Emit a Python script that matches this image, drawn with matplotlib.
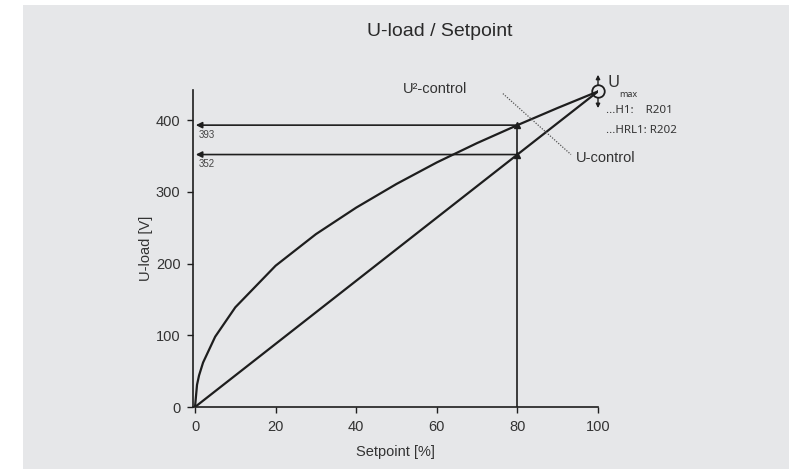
import matplotlib

matplotlib.use("Agg")
import matplotlib.pyplot as plt
from matplotlib.patches import Rectangle
from matplotlib.transforms import offset_copy

# values
setpoint = [0, 0.5, 1, 2, 5, 10, 20, 30, 40, 50, 60, 70, 80, 90, 100]
u_sq = [0, 31, 44, 62, 98, 139, 197, 241, 278, 311, 341, 368, 393, 417, 440]
u_lin_x = [0, 100]
u_lin = [0, 440]
mark_x = 80
mark_vals = [393, 352]
u_max = 440
xticks = [0, 20, 40, 60, 80, 100]
yticks = [0, 100, 200, 300, 400]

INK = "#1e1e1e"
TXT = "#333333"
BG = "#e6e7e9"
SANS = ["Liberation Sans", "DejaVu Sans"]
NOTO = ["Noto Sans", "DejaVu Sans"]

fig = plt.figure(figsize=(7.89, 4.69), dpi=100, facecolor="white")
fig.patches.append(Rectangle((23 / 789, 0), 1, 464 / 469, transform=fig.transFigure,
                             facecolor=BG, edgecolor="none", zorder=-10))
ax = fig.add_axes([193 / 789, 62 / 469, 405 / 789, 317 / 469])
ax.set_facecolor("none")

ax.plot(setpoint, u_sq, color=INK, lw=1.6, solid_capstyle="round")
ax.plot(u_lin_x, u_lin, color=INK, lw=1.6)

# vertical marker line with small up-pointing heads
ax.plot([mark_x, mark_x], [0, mark_vals[0]], color=INK, lw=1.2)
ax.plot([mark_x] * len(mark_vals), mark_vals, "^", color=INK, ms=4.5, mec=INK)

for v in mark_vals:
    ax.annotate("", xy=(0.2, v), xytext=(mark_x, v),
                arrowprops=dict(arrowstyle="-|>", color=INK, lw=1.2,
                                mutation_scale=9, shrinkA=0, shrinkB=0))
    ax.annotate(str(v), xy=(0, v), xytext=(3, -3.5), textcoords="offset points",
                ha="left", va="top", fontsize=7, color="#444444", family=SANS)

# U max marker: open circle with up/down arrows
ax.plot([100], [u_max], "o", ms=9, mfc="none", mec=INK, mew=1.3, clip_on=False)
for dy in (-1, 1):
    tip = offset_copy(ax.transData, fig=fig, x=0, y=dy * 12, units="points")
    ax.annotate("", xy=(100, u_max), xycoords=tip, xytext=(0, -dy * 7.5),
                textcoords="offset points", annotation_clip=False,
                arrowprops=dict(arrowstyle="-|>", color=INK, lw=1.0,
                                mutation_scale=6, shrinkA=0, shrinkB=0))
ax.annotate("U", xy=(100, u_max), xytext=(6.5, 6), textcoords="offset points",
            fontsize=12, color=TXT, ha="left", va="center", family=NOTO,
            annotation_clip=False)
ax.annotate("max", xy=(100, u_max), xytext=(15.5, -2), textcoords="offset points",
            fontsize=6.5, color=TXT, ha="left", va="center", family=NOTO,
            annotation_clip=False)
ax.annotate("...H1:    R201", xy=(100, u_max), xytext=(6, -14), textcoords="offset points",
            fontsize=8.3, color=TXT, ha="left", va="center", family=NOTO,
            annotation_clip=False)
ax.annotate("...HRL1: R202", xy=(100, u_max), xytext=(6, -28), textcoords="offset points",
            fontsize=8.3, color=TXT, ha="left", va="center", family=NOTO,
            annotation_clip=False)

# curve labels with dotted leader
ax.plot([76.4, 93.3], [437, 352], color="#555555", lw=0.9, ls=(0, (1, 1.2)),
        clip_on=False)
ax.text(51.5, 443, "U²-control", fontsize=10.5, color=TXT, ha="left", va="center",
        family=SANS)
ax.text(94.5, 347, "U-control", fontsize=10.5, color=TXT, ha="left", va="center",
        family=SANS)

ax.set_xlim(-0.5, 100)
ax.set_ylim(0, 442)
ax.set_xticks(xticks)
ax.set_yticks(yticks)
for s in ("top", "right"):
    ax.spines[s].set_visible(False)
for s in ("left", "bottom"):
    ax.spines[s].set_color(INK)
    ax.spines[s].set_linewidth(1.2)
ax.tick_params(direction="out", length=4, width=1, color=INK, labelcolor=TXT,
               labelsize=10.5, pad=5)
for lab in ax.get_xticklabels() + ax.get_yticklabels():
    lab.set_family(SANS)

ax.set_xlabel("Setpoint [%]", fontsize=10.5, color=TXT, labelpad=8, family=SANS)
ax.set_ylabel("U-load [V]", fontsize=10.5, color=TXT, labelpad=2, family=SANS)

fig.text(440 / 789, 1 - 31 / 469, "U-load / Setpoint", fontsize=14, color="#2a2a2a",
         ha="center", va="center", family=SANS)

fig.savefig("out.png", dpi=100, facecolor=fig.get_facecolor())
